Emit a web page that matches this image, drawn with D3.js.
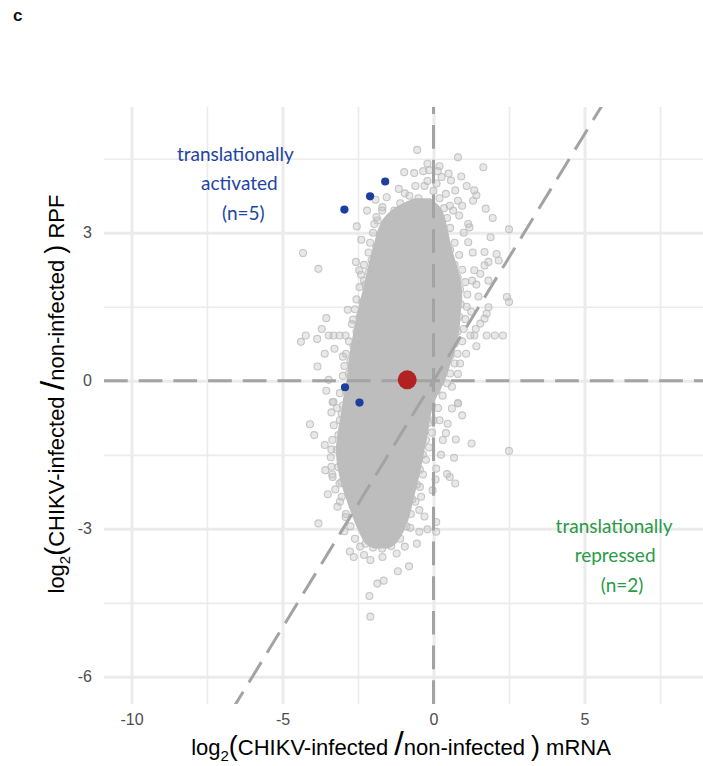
<!DOCTYPE html>
<html><head><meta charset="utf-8">
<script src="https://cdn.jsdelivr.net/npm/d3@7"></script>
<style>
html,body{margin:0;padding:0;background:#fff;}
svg{display:block;}
</style></head><body>
<svg id="chart" width="703" height="766"></svg>
<script>
// ---------------- data ----------------
const xTicks = [-10, -5, 0, 5];
const yTicks = [-6, -3, 0, 3];
const xMinor = [-7.5, -2.5, 2.5, 7.5];
const yMinor = [-4.5, -1.5, 1.5, 4.5];

// dense core of the gene cloud: RPF level, left / right mRNA bound
const coreRPF   = [3.7, 3.5, 3.3, 3.05, 2.7, 2.37, 2.03, 1.7, 1.36, 1.02, 0.69, 0.35, 0.0, -0.39, -0.73, -1.07, -1.41, -1.74, -2.08, -2.42, -2.76, -3.09, -3.3, -3.4];
const coreLeft  = [-0.65, -1.3, -1.65, -1.85, -2.0, -2.15, -2.27, -2.4, -2.53, -2.64, -2.74, -2.82, -2.88, -3.0, -3.08, -3.18, -3.23, -3.18, -3.06, -2.88, -2.68, -2.45, -2.25, -1.95];
const coreRight = [-0.1, 0.25, 0.38, 0.48, 0.6, 0.76, 0.9, 0.95, 0.9, 0.86, 0.74, 0.57, 0.38, 0.06, -0.1, -0.18, -0.3, -0.4, -0.53, -0.67, -0.8, -1.02, -1.25, -1.5];

// individual genes (mRNA log2FC, RPF log2FC) visible outside / on the edge of the core
const genePoints = [
[-4.32,2.59],[-3.81,2.27],[-3.55,1.27],[-4.39,0.79],[-4.23,0.92],[-3.85,0.85],[-3.47,0.92],[-3.31,0.92],[-3.11,0.92],[-2.91,0.92],
[-3.84,0.29],[-3.47,0.02],[-3.28,0.65],[-3.0,0.49],[-2.84,1.44],[-2.66,1.24],[-2.57,2.41],[-2.46,2.24],[-2.30,2.03],[-2.54,3.13],
[-2.39,2.86],[-1.96,3.18],[-1.89,3.32],[-1.69,3.52],[-1.55,3.72],[-1.92,3.67],[-1.15,3.89],[-0.95,3.80],[-0.97,4.23],[-0.64,4.21],
[-0.34,4.25],[-0.14,4.27],[0.14,4.25],[0.27,4.13],[0.58,4.06],[0.92,4.14],[1.35,3.86],[1.42,3.76],[1.31,3.65],[0.41,3.79],
[0.72,3.86],[0.81,3.65],[0.54,3.55],[0.95,3.55],[1.73,3.49],[1.96,3.30],[2.5,3.07],[1.15,3.18],[0.85,3.35],[1.19,3.11],
[1.89,2.91],[1.15,2.81],[1.69,2.61],[2.09,2.57],[2.16,2.44],[1.82,2.41],[1.69,2.34],[1.35,2.24],[1.55,2.17],[1.82,2.03],
[1.28,2.03],[1.42,1.95],[1.49,1.71],[1.82,1.49],[1.76,1.36],[2.43,1.70],[2.5,1.60],[1.69,1.26],[1.55,1.16],[1.76,0.92],
[2.03,0.92],[2.30,0.92],[1.22,0.92],[1.35,0.92],[1.42,0.70],[1.08,0.55],[0.88,0.35],[0.81,0.14],[0.61,-0.12],[0.81,-0.45],
[-0.54,4.68],[0.81,4.53],[1.65,4.33],
[-4.09,-0.88],[-3.95,-1.10],[-3.58,-1.81],[-3.38,-1.74],[-3.81,-2.89],[-2.64,-3.57],[-2.30,-3.53],[-2.09,-3.63],[-1.69,-3.57],[-1.22,-3.50],
[-0.81,-3.76],[-1.18,-3.86],[-1.86,-4.11],[-1.65,-4.05],[-2.12,-4.36],[-2.09,-4.78],[-0.95,-3.36],[-0.47,-3.06],[-0.2,-3.01],[0.09,-3.06],
[0.09,-2.86],[2.5,-1.42],[1.26,-1.27],[0.68,-1.56],[0.72,-2.08],[0.54,-1.95],[0.45,-1.89],[0.09,-1.78],[0.07,-2.0],[-0.03,-2.22],
[0.31,-1.2],[0.47,-0.87],[0.41,-1.06],[0.74,-1.19],[0.81,-0.46],[0.61,-0.56],[0.2,-0.8],[-0.41,-2.35],[-0.47,-2.62],[-0.77,-2.98],
[-1.42,-3.16],[-1.82,-3.16],[-2.43,-3.36],[-2.77,-3.46],[-2.91,-2.76],[-3.18,-2.55],[-3.04,-2.35],[-3.11,-2.08],[-3.34,-1.95],[-3.38,-1.39],
[-3.38,-0.64],[-3.04,-0.67],[-3.31,-0.43],[-3.34,-0.43],
[-1.7,3.45],[-1.85,3.25],[-2.0,3.0],[-2.1,2.8],[-2.15,2.6],[-2.3,2.35],[-2.4,2.15],[-2.45,1.9],[-2.55,1.65],[-2.6,1.45],
[-2.7,1.15],[-2.8,0.8],[-2.9,0.55],[-2.95,0.3],[-3.0,0.1],[-3.1,-0.25],[-3.2,-0.55],[-3.3,-0.9],[-3.35,-1.2],[-3.4,-1.55],
[-3.35,-1.9],[-3.25,-2.2],[-3.1,-2.45],[-2.9,-2.7],[-2.75,-2.95],[-2.6,-3.2],
[0.55,3.1],[0.7,2.8],[0.85,2.55],[0.95,2.25],[1.05,2.0],[1.12,1.75],[1.1,1.5],[1.05,1.25],[1.0,1.05],[0.95,0.8],
[0.8,0.55],[0.7,0.35],[0.55,0.15],[0.45,-0.05],[0.3,-0.3],[0.15,-0.55],[0.0,-0.8],[-0.05,-1.05],[-0.15,-1.35],[-0.25,-1.6],
[-0.35,-1.9],[-0.45,-2.15],[-0.6,-2.45],[-0.75,-2.7],[-0.9,-2.95],[-1.1,-3.2],
[-1.4,-3.35],[-1.7,-3.4],[-2.0,-3.38],[-2.25,-3.3],
[-0.3,3.95],[0.0,3.85],[0.2,3.7],[-0.5,3.7],[-0.8,3.75],[-1.1,3.6],[-1.3,3.45],[0.35,3.5],[0.45,3.3],[-0.2,4.05],[-0.6,3.95],[0.1,4.0],
[-1.45,3.3],[-1.6,3.15],[-1.75,2.95],[-1.9,2.7],[-2.05,2.45],[-2.15,2.2],[-2.25,1.95],[-2.35,1.6],[-2.45,1.3],[-2.55,1.0],
[-2.65,0.7],[-2.75,0.4],[-2.8,0.15],[-2.9,-0.2],[-3.0,-0.5],[-3.1,-0.8],[-3.15,-1.1],[-3.2,-1.4],[-3.15,-1.75],[-3.05,-2.05],
[0.35,2.95],[0.55,2.65],[0.7,2.35],[0.8,2.1],[0.88,1.85],[0.9,1.55],[0.85,1.3],[0.8,1.0],[0.7,0.75],[0.55,0.5],
[0.35,0.25],[0.25,0.05],[0.1,-0.2],[-0.05,-0.5],[-0.15,-0.85],[-0.25,-1.2],[-0.35,-1.5],[-0.45,-1.8],[-0.55,-2.1],[-0.7,-2.4],
[0.2,4.35],[-0.2,4.4],[0.5,4.2],[1.1,3.95],[0.65,3.45],[1.0,3.0],[1.3,2.6],[1.25,1.4],[1.4,1.05],[-2.2,3.45],
[-3.6,0.55],[-3.7,1.05],[-3.55,-0.2],[-3.6,-1.3],[-3.5,-2.3],[-2.95,-3.05],[-0.55,-3.3],[-0.3,-2.75],[0.25,-1.5],[0.95,-0.7]
];

const activatedMRNA = [-2.95, -2.10, -1.60, -2.93, -2.45];
const activatedRPF  = [3.47, 3.74, 4.04, -0.13, -0.44];
const chikvMRNA = [-0.87];
const chikvRPF  = [0.02];

// ---------------- layout ----------------
const svg = d3.select("#chart");
const L = 104, R = 705.3, T = 107, B = 704;
const x = d3.scaleLinear().domain([-10.91, 9.0]).range([L, R]);
const y = d3.scaleLinear().domain([-6.55, 5.55]).range([B, T]);

svg.append("defs").append("clipPath").attr("id","panel")
  .append("rect").attr("x",L).attr("y",T).attr("width",R-L).attr("height",B-T);

const grid = svg.append("g");
function gridAxis(axis, tr, w){
  const g = grid.append("g").attr("transform", tr).call(axis);
  g.select(".domain").remove();
  g.selectAll("line").attr("stroke","#ebebeb").attr("stroke-width",w);
  g.selectAll("text").remove();
}
gridAxis(d3.axisBottom(x).tickValues(xMinor).tickSize(-(B-T)), `translate(0,${B})`, 1.6);
gridAxis(d3.axisLeft(y).tickValues(yMinor).tickSize(-(R-L)), `translate(${L},0)`, 1.6);
gridAxis(d3.axisBottom(x).tickValues(xTicks).tickSize(-(B-T)), `translate(0,${B})`, 3);
gridAxis(d3.axisLeft(y).tickValues(yTicks).tickSize(-(R-L)), `translate(${L},0)`, 3);

// tick labels
function labelAxis(axis, tr){
  const g = svg.append("g").attr("transform", tr).call(axis);
  g.select(".domain").remove();
  g.selectAll("line").remove();
  g.selectAll("text").attr("font-family","'Liberation Sans', Arial, sans-serif")
   .attr("font-size",16).attr("fill","#4d4d4d");
}
labelAxis(d3.axisBottom(x).tickValues(xTicks).tickSize(0).tickPadding(10).tickFormat(d=>String(d)), `translate(0,${B})`);
labelAxis(d3.axisLeft(y).tickValues(yTicks).tickSize(0).tickPadding(12).tickFormat(d=>String(d)), `translate(${L},0)`);

const plot = svg.append("g").attr("clip-path","url(#panel)");

// dense core
const core = coreRPF.map((v,i)=>({rpf:v, l:coreLeft[i], r:coreRight[i]}));
plot.append("path").datum(core)
  .attr("d", d3.area().y(d=>y(d.rpf)).x0(d=>x(d.l)).x1(d=>x(d.r)).curve(d3.curveCatmullRom))
  .attr("fill","#bdbdbd");

// genes
plot.append("g").selectAll("circle").data(genePoints).join("circle")
  .attr("cx",d=>x(d[0])).attr("cy",d=>y(d[1])).attr("r",3.5)
  .attr("fill","#bdbdbd").attr("fill-opacity",0.35)
  .attr("stroke","#bdbdbd").attr("stroke-opacity",0.85).attr("stroke-width",1.1);

// reference lines
const dash = "23.7 11";
const lines = plot.append("g").attr("stroke","#a3a3a3").attr("stroke-width",3).attr("stroke-dasharray",dash).attr("fill","none");
lines.append("line").attr("x1",x(0)).attr("x2",x(0)).attr("y1",B).attr("y2",T);
lines.append("line").attr("x1",L).attr("x2",R).attr("y1",y(0)).attr("y2",y(0));
lines.append("line").attr("x1",x(-10.91)).attr("y1",y(-10.91)).attr("x2",x(9)).attr("y2",y(9));

// highlighted genes
plot.append("g").selectAll("circle").data(activatedMRNA).join("circle")
  .attr("cx",d=>x(d)).attr("cy",(d,i)=>y(activatedRPF[i])).attr("r",4.1).attr("fill","#1c3f9e");
plot.append("g").selectAll("circle").data(chikvMRNA).join("circle")
  .attr("cx",d=>x(d)).attr("cy",(d,i)=>y(chikvRPF[i])).attr("r",9.5).attr("fill","#b22222");

// annotations
function note(lines, cx, cy, color){
  const g = svg.append("g").attr("font-family","Lato, 'Open Sans', sans-serif").attr("font-size",19)
    .attr("fill",color).attr("text-anchor","middle");
  lines.forEach((t,i)=>{
    g.append("text").attr("x",x(cx)+t.dx).attr("y",y(cy)+i*29.5).text(t.s);
  });
}
note([{s:"translationally",dx:0},{s:"activated",dx:4},{s:"(n=5)",dx:8}], -6.56, 4.46, "#1f45a3");
note([{s:"translationally",dx:0},{s:"repressed",dx:1},{s:"(n=2)",dx:8}], 5.98, -3.08, "#2b9a48");

// axis titles
function title(g, tail){
  g.attr("font-family","'Liberation Sans', Arial, sans-serif").attr("font-size",22).attr("fill","#000").attr("text-anchor","middle");
  const t = g.append("text");
  t.append("tspan").text("log");
  t.append("tspan").attr("font-size",15).attr("dy",6).text("2");
  t.append("tspan").attr("font-size",27).attr("dy",-6).text("(");
  t.append("tspan").text("CHIKV-infected ");
  t.append("tspan").attr("font-size",34).text("/");
  t.append("tspan").text("non-infected ");
  t.append("tspan").attr("font-size",27).text(")");
  t.append("tspan").text(" " + tail);
  return t;
}
title(svg.append("g").attr("transform","translate(401,755)"), "mRNA");
title(svg.append("g").attr("transform","translate(64,394) rotate(-90)"), "RPF");

svg.append("text").attr("x",13).attr("y",21).attr("font-family","'Liberation Sans', Arial, sans-serif")
  .attr("font-size",17).attr("font-weight","bold").attr("fill","#111").text("c");
</script>
</body></html>
